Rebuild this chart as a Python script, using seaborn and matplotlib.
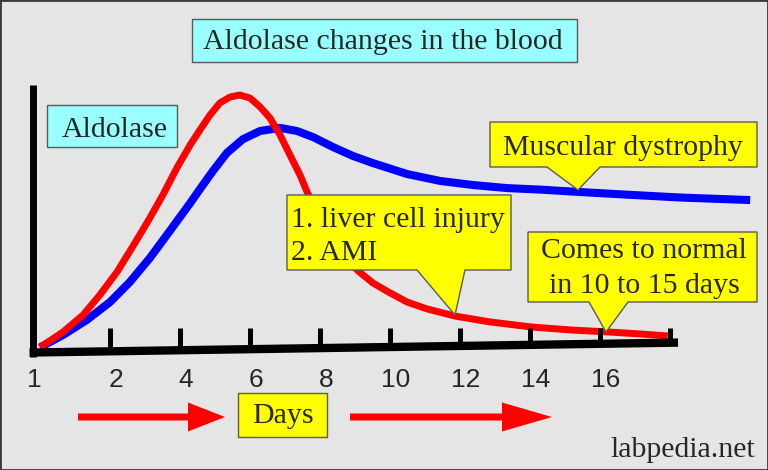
import seaborn as sns
import numpy as np
import matplotlib.pyplot as plt
from matplotlib.patches import Polygon, Rectangle
from matplotlib.transforms import Affine2D


# Data #

red_days = [0.00, 0.66, 1.23, 1.71, 2.20, 2.66, 3.14, 3.51, 3.91, 4.29, 4.57, 4.86, 5.14,
            5.43, 5.71, 6.00, 6.29, 6.57, 6.86, 7.14, 7.43, 7.63, 7.91, 8.20, 8.49, 8.77,
            9.09, 9.51, 10.00, 10.49, 11.06, 11.86, 12.86, 14.06, 15.23, 16.20, 17.14, 17.94]
red_level = [0.10, 0.71, 1.37, 2.16, 3.06, 4.08, 5.18, 6.08, 7.14, 8.04, 8.63, 9.22, 9.69,
             9.92, 10.00, 9.88, 9.53, 9.10, 8.43, 7.65, 6.86, 6.20, 5.37, 4.67, 4.04, 3.53,
             3.10, 2.63, 2.24, 1.88, 1.61, 1.33, 1.10, 0.90, 0.78, 0.71, 0.63, 0.55]

blue_days = [0.00, 0.66, 1.34, 2.00, 2.57, 3.14, 3.71, 4.29, 4.57, 4.94, 5.34, 5.80, 6.29,
             6.86, 7.34, 7.80, 8.37, 8.94, 9.51, 10.49, 11.43, 12.37, 13.34, 14.29, 15.37,
             16.66, 18.29, 20.29]
blue_level = [0.10, 0.59, 1.18, 1.88, 2.67, 3.61, 4.67, 5.76, 6.31, 7.02, 7.73, 8.27, 8.59,
              8.71, 8.59, 8.35, 7.96, 7.61, 7.33, 6.90, 6.63, 6.47, 6.35, 6.29, 6.20,
              6.10, 5.98, 5.88]

tick_days = [2, 4, 6, 8, 10, 12, 14, 16, 18]
label_days = [-0.17, 2.17, 4.17, 6.17, 8.17, 10.17, 12.17, 14.17, 16.17]
tick_labels = ["1", "2", "4", "6", "8", "10", "12", "14", "16"]

title = "Aldolase changes in the blood"
y_label = "Aldolase"
x_label = "Days"
note_muscle = "Muscular dystrophy"
note_liver = ["1. liver cell injury", "2. AMI"]
note_normal = ["Comes to normal", "in 10 to 15 days"]
credit = "labpedia.net"


# Style #

BG = "#e5e5e5"
CYAN = "#99ffff"
YELLOW = "#ffff00"
EDGE = "#5a5a5a"
RED = "#ff0000"
BLUE = "#0000ff"

sns.set_style("white")
plt.rcParams["font.family"] = ["Liberation Serif", "DejaVu Serif"]


def callout(ax, tr, left, top, right, bottom, base_l, base_r, tip):
	"""Yellow box with a pointer on its lower edge (pixel coordinates)."""
	pts = [(left, top), (right, top), (right, bottom), (base_r, bottom), tip,
		   (base_l, bottom), (left, bottom)]
	ax.add_patch(Polygon(pts, closed=True, transform=tr, facecolor=YELLOW,
						 edgecolor=EDGE, linewidth=1, zorder=6))


def arrow(ax, tr, x0, xh, xt, y):
	pts = [(x0, y - 3.5), (xh, y - 3.5), (xh, y - 14.5), (xt, y), (xh, y + 14.5),
		   (xh, y + 3.5), (x0, y + 3.5)]
	ax.add_patch(Polygon(pts, closed=True, transform=tr, facecolor=RED,
						 edgecolor="none", zorder=6))


# Main #

fig = plt.figure(figsize=(7.68, 4.70), dpi=100)
fig.patch.set_facecolor(BG)
ax = fig.add_axes([0, 0, 1, 1])
ax.set_xlim(-40 / 35, 728 / 35)
ax.set_ylim(-120 / 25.5, 350 / 25.5)
ax.set_facecolor(BG)
ax.axis("off")

# pixel coordinates (origin top left) for the decorations
px = Affine2D().scale(1 / 768, -1 / 470).translate(0, 1) + fig.transFigure

sns.lineplot(x=blue_days, y=blue_level, ax=ax, color=BLUE, linewidth=5.8,
			 solid_joinstyle="round", solid_capstyle="butt", zorder=3)
sns.lineplot(x=red_days, y=red_level, ax=ax, color=RED, linewidth=5.0,
			 solid_joinstyle="round", solid_capstyle="butt", zorder=4)

# hand drawn looking axes (x axis slightly tilted)
ax_x = [-0.30, 18.23]
ax_y = [-0.10, 0.29]
ax.plot(ax_x, ax_y, color="black", linewidth=6, solid_capstyle="butt", zorder=5)
ax.plot([-0.186, -0.186], [-0.27, 10.39], color="black", linewidth=5,
		solid_capstyle="butt", zorder=5)
ax.vlines(tick_days, np.interp(tick_days, ax_x, ax_y), 0.86, color="black",
		  linewidth=3.6, zorder=5)
for d, lab in zip(label_days, tick_labels):
	ax.text(d, -1.45, lab, ha="center", va="baseline", fontsize=19,
			family=["Liberation Sans", "DejaVu Sans"], zorder=6)

# title and y label boxes
ax.add_patch(Rectangle((192, 19), 385, 43, transform=px, facecolor=CYAN,
					   edgecolor=EDGE, linewidth=1, zorder=6))
ax.text(383, 49, title, transform=px, ha="center", va="baseline", fontsize=21.5, zorder=7)
ax.add_patch(Rectangle((47, 105), 130, 42, transform=px, facecolor=CYAN,
					   edgecolor=EDGE, linewidth=1, zorder=6))
ax.text(115, 137, y_label, transform=px, ha="center", va="baseline", fontsize=21.5, zorder=7)

# callouts
callout(ax, px, 490, 122, 757, 167, 547, 600, (578, 190))
ax.text(623, 155, note_muscle, transform=px, ha="center", va="baseline", fontsize=21.5, zorder=7)
callout(ax, px, 287, 195, 511, 270, 417, 465, (455, 315))
ax.text(291, 227, note_liver[0], transform=px, ha="left", va="baseline", fontsize=21.5, zorder=7)
ax.text(291, 260, note_liver[1], transform=px, ha="left", va="baseline", fontsize=21.5, zorder=7)
callout(ax, px, 528, 232, 757, 302, 589, 628, (606, 332))
ax.text(644, 258, note_normal[0], transform=px, ha="center", va="baseline", fontsize=21.5, zorder=7)
ax.text(644, 293, note_normal[1], transform=px, ha="center", va="baseline", fontsize=21.5, zorder=7)

# days label with arrows
arrow(ax, px, 78, 188, 225, 417)
arrow(ax, px, 350, 502, 552, 417)
ax.add_patch(Rectangle((238, 393), 89, 44, transform=px, facecolor=YELLOW,
					   edgecolor=EDGE, linewidth=1, zorder=6))
ax.text(283, 423, x_label, transform=px, ha="center", va="baseline", fontsize=21.5, zorder=7)

ax.text(755, 457, credit, transform=px, ha="right", va="baseline", fontsize=21.5, zorder=7)

fig.add_artist(Rectangle((0, 0), 1, 1, transform=fig.transFigure, fill=False,
						 edgecolor="#3a3a3a", linewidth=2))

fig.savefig("out.png", dpi=100, facecolor=BG)
